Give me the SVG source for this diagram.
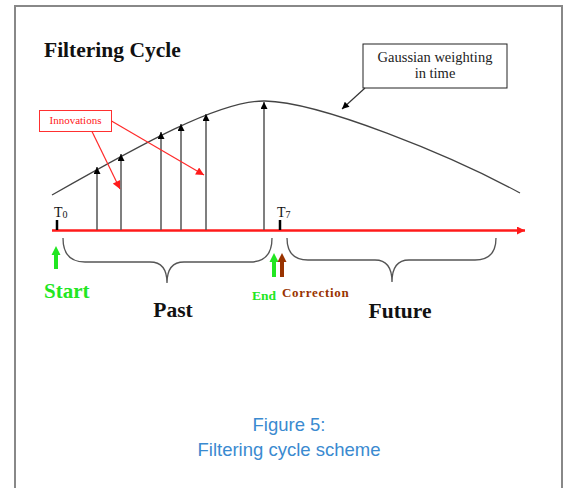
<svg xmlns="http://www.w3.org/2000/svg" width="570" height="488" viewBox="0 0 570 488">
<defs>
<style>
.serif{font-family:"Liberation Serif","Times New Roman",serif}
.big{font-size:21.5px;font-weight:bold;fill:#111}
.vec{stroke:#555;stroke-width:1.5;fill:none}
.brace{stroke:#555;stroke-width:1.3;fill:none}
.red{stroke:#ff2a2a;stroke-width:1.2;fill:none}
.cap{font-family:"Liberation Sans",Arial,sans-serif;font-size:18.5px;fill:#3a8ad0;text-anchor:middle}
</style>
<marker id="bk" viewBox="0 0 10 10" refX="10" refY="5" markerWidth="9" markerHeight="7" markerUnits="userSpaceOnUse" orient="auto"><path d="M0,0 L10,5 L0,10 Z" fill="#000"/></marker>
<marker id="rd" viewBox="0 0 10 10" refX="10" refY="5" markerWidth="9" markerHeight="8" markerUnits="userSpaceOnUse" orient="auto"><path d="M0,0 L10,5 L0,10 Z" fill="#ff1a1a"/></marker>
<marker id="ax" viewBox="0 0 10 10" refX="10" refY="5" markerWidth="9" markerHeight="8" markerUnits="userSpaceOnUse" orient="auto"><path d="M0,0 L10,5 L0,10 Z" fill="#ff1a1a"/></marker>
</defs>
<rect width="570" height="488" fill="#fff"/>
<path d="M15,490 L15,6 L562,6 L562,490" fill="none" stroke="#888" stroke-width="2"/>

<g id="title"><text class="serif big" x="44" y="57">Filtering Cycle</text></g>

<g id="gaussian-box">
<rect x="363" y="44" width="144" height="44" fill="#fff" stroke="#222" stroke-width="1"/>
<text class="serif" x="435" y="62" font-size="14.5" text-anchor="middle" fill="#222">Gaussian weighting</text>
<text class="serif" x="435" y="78" font-size="14.5" text-anchor="middle" fill="#222">in time</text>
</g>

<g id="innovations-box">
<rect x="39.5" y="110.5" width="72" height="21" fill="#fff" stroke="#ff3030" stroke-width="1"/>
<text class="serif" x="75.5" y="124" font-size="11" text-anchor="middle" fill="#ff2020">Innovations</text>
</g>

<g id="curve"><path d="M52,195 C140,145 220,100 265,101 C320,102 450,155 520,193" fill="none" stroke="#444" stroke-width="1.3"/></g>

<g id="axis">
<line x1="52" y1="230.5" x2="525" y2="230.5" stroke="#ff1a1a" stroke-width="2.5" marker-end="url(#ax)"/>
<line x1="57" y1="220" x2="57" y2="230" stroke="#000" stroke-width="2.5"/>
<line x1="280" y1="220" x2="280" y2="230" stroke="#000" stroke-width="2.5"/>
</g>

<g id="t0"><text class="serif" x="54" y="217" font-size="14" fill="#111">T<tspan font-size="10" dy="1">0</tspan></text></g>
<g id="t7"><text class="serif" x="277" y="217" font-size="14" fill="#111">T<tspan font-size="10" dy="1">7</tspan></text></g>

<g id="connectors">
<line class="vec" x1="97" y1="230" x2="97" y2="167" marker-end="url(#bk)"/>
<line class="vec" x1="121" y1="230" x2="121" y2="154" marker-end="url(#bk)"/>
<line class="vec" x1="161" y1="230" x2="161" y2="132" marker-end="url(#bk)"/>
<line class="vec" x1="181" y1="230" x2="181" y2="124" marker-end="url(#bk)"/>
<line class="vec" x1="206" y1="230" x2="206" y2="114" marker-end="url(#bk)"/>
<line class="vec" x1="264" y1="230" x2="264" y2="102" marker-end="url(#bk)"/>
<line x1="365" y1="88" x2="342" y2="109" stroke="#333" stroke-width="1.2" marker-end="url(#bk)"/>
<line class="red" x1="92" y1="131.5" x2="120" y2="189" marker-end="url(#rd)"/>
<line class="red" x1="111.5" y1="121" x2="204" y2="175" marker-end="url(#rd)"/>
</g>

<g id="past-brace"><path class="brace" d="M63,238 Q63,262 85,262 L150,262 Q167,262 167,283 Q167,262 184,262 L250,262 Q272,262 272,238"/></g>
<g id="future-brace"><path class="brace" d="M287,238 Q287,260 308,260 L375,260 Q392,260 392,282 Q392,260 409,260 L475,260 Q496,260 496,238"/></g>

<g id="start">
<path d="M56,246 L60.5,255 L58,255 L58,269 L54,269 L54,255 L51.5,255 Z" fill="#22e622"/>
<text class="serif" x="44" y="298" font-size="21" font-weight="bold" fill="#22e622">Start</text>
</g>
<g id="end">
<path d="M274,253 L278.5,262 L276,262 L276,277 L272,277 L272,262 L269.5,262 Z" fill="#22e622"/>
<text class="serif" x="252" y="300" font-size="13.5" font-weight="bold" fill="#22e622">End</text>
</g>
<g id="correction">
<path d="M282,253 L286.5,262 L284,262 L284,277 L280,277 L280,262 L277.5,262 Z" fill="#993300"/>
<text class="serif" x="282" y="297" font-size="13" font-weight="bold" fill="#993300" letter-spacing="0.7">Correction</text>
</g>

<g id="past"><text class="serif big" x="173" y="317" text-anchor="middle">Past</text></g>
<g id="future"><text class="serif big" x="400" y="318" text-anchor="middle">Future</text></g>

<g id="caption">
<text class="cap" x="289" y="431">Figure 5:</text>
<text class="cap" x="289" y="456">Filtering cycle scheme</text>
</g>
</svg>
